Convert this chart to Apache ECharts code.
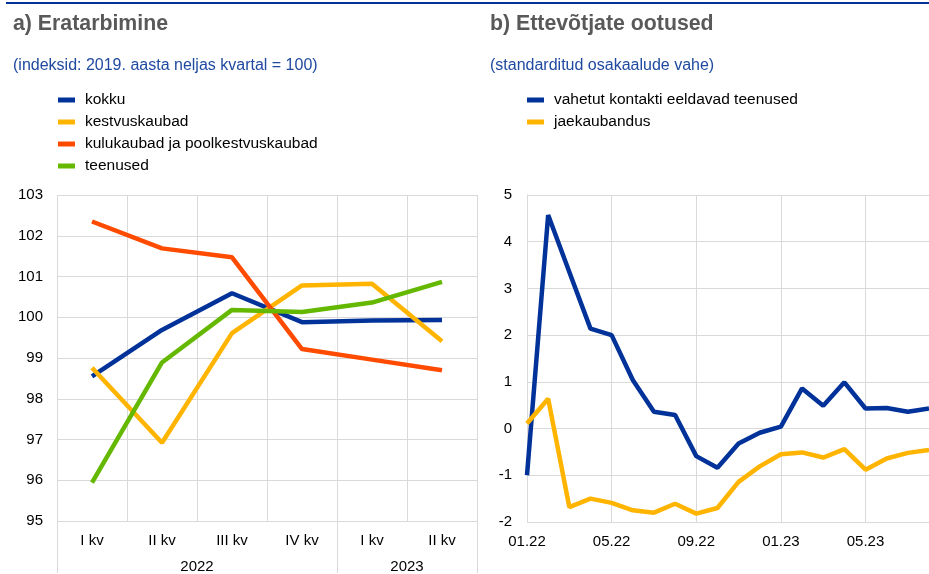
<!DOCTYPE html>
<html><head><meta charset="utf-8">
<script src="https://cdn.jsdelivr.net/npm/echarts@6/dist/echarts.min.js"></script>
<style>html,body{margin:0;padding:0;background:#fff}#c{width:929px;height:574px}</style>
</head><body><div id="c"></div>
<script>
// Panel a) data
const quarters = ['I kv','II kv','III kv','IV kv','I kv','II kv'];
const years = ['2022','2023'];
const yearQuarterCounts = [4, 2];
const kokku = [98.55, 99.69, 100.59, 99.88, 99.92, 99.93];
const kestvuskaubad = [98.76, 96.92, 99.61, 100.78, 100.82, 99.41];
const kulukaubad = [102.35, 101.69, 101.47, 99.22, 98.96, 98.70];
const teenused = [95.94, 98.89, 100.18, 100.13, 100.36, 100.87];
// Panel b) data
const months = ['01.22','02.22','03.22','04.22','05.22','06.22','07.22','08.22','09.22','10.22','11.22','12.22',
                '01.23','02.23','03.23','04.23','05.23','06.23','07.23','08.23'];
const kontaktTeenused = [-1.0, 4.57, 3.35, 2.14, 2.0, 1.04, 0.36, 0.29, -0.59, -0.84, -0.32, -0.09,
                         0.04, 0.86, 0.49, 0.99, 0.43, 0.44, 0.36, 0.43];
const jaekaubandus = [0.11, 0.64, -1.68, -1.5, -1.59, -1.75, -1.8, -1.61, -1.82, -1.7, -1.14, -0.81,
                      -0.55, -0.51, -0.62, -0.44, -0.88, -0.64, -0.52, -0.46];

const BLUE = '#003299', YELLOW = '#FFB400', ORANGE = '#FF4B00', GREEN = '#65B800';
const FONT = 'Liberation Sans, Arial, sans-serif';
const GRID_C = '#d9d9d9';
const AX_FS = 15, LEG_FS = 15.5;

// year separators and label centres (in quarter units)
const sepVals = [0]; const yearCentres = [];
let acc = 0;
yearQuarterCounts.forEach(n => { yearCentres.push(acc + n / 2); acc += n; sepVals.push(acc); });

const chart = echarts.init(document.getElementById('c'), null, {renderer: 'canvas'});
const lineS = (name, data, color, xi, yi) => ({
  name, type: 'line', data, xAxisIndex: xi, yAxisIndex: yi, showSymbol: false, symbol: 'none',
  lineStyle: {color, width: 4.5, cap: 'butt'}, itemStyle: {color}, animation: false
});
chart.setOption({
  animation: false,
  textStyle: {fontFamily: FONT},
  graphic: [{type: 'rect', shape: {x: 6, y: 2, width: 923, height: 2}, style: {fill: BLUE}}],
  title: [
    {text: 'a) Eratarbimine', left: 13, top: 14, padding: 0, textStyle: {fontSize: 21.3, fontWeight: 'bold', color: '#595959', fontFamily: FONT}},
    {text: '(indeksid: 2019. aasta neljas kvartal = 100)', left: 13, top: 58, padding: 0, textStyle: {fontSize: 16, fontWeight: 'normal', color: '#1f4aa0', fontFamily: FONT}},
    {text: 'b) Ettevõtjate ootused', left: 490, top: 14, padding: 0, textStyle: {fontSize: 21.3, fontWeight: 'bold', color: '#595959', fontFamily: FONT}},
    {text: '(standarditud osakaalude vahe)', left: 490, top: 58, padding: 0, textStyle: {fontSize: 16, fontWeight: 'normal', color: '#1f4aa0', fontFamily: FONT}}
  ],
  legend: [
    {orient: 'vertical', left: 58, top: 92, padding: 0, itemGap: 6, itemWidth: 17, itemHeight: 5, icon: 'rect',
     data: ['kokku','kestvuskaubad','kulukaubad ja poolkestvuskaubad','teenused'],
     textStyle: {fontSize: LEG_FS, color: '#000', fontFamily: FONT, padding: [0,0,0,5]}},
    {orient: 'vertical', left: 527, top: 92, padding: 0, itemGap: 6, itemWidth: 17, itemHeight: 5, icon: 'rect',
     data: ['vahetut kontakti eeldavad teenused','jaekaubandus'],
     textStyle: {fontSize: LEG_FS, color: '#000', fontFamily: FONT, padding: [0,0,0,5]}}
  ],
  grid: [
    {left: 57, top: 195, width: 420, height: 327},
    {left: 527, top: 195, right: 0, height: 327}
  ],
  xAxis: [
    {type: 'category', gridIndex: 0, data: quarters, boundaryGap: true,
     axisLine: {show: false}, axisTick: {show: false},
     axisLabel: {fontSize: AX_FS, color: '#000', margin: 12, fontFamily: FONT},
     splitLine: {show: true, lineStyle: {color: GRID_C, width: 1}}},
    {type: 'value', gridIndex: 0, min: 0, max: 6, position: 'bottom',
     axisLine: {show: false}, splitLine: {show: false},
     axisTick: {show: true, customValues: sepVals, length: 52, lineStyle: {color: GRID_C, width: 1}},
     axisLabel: {show: true, customValues: yearCentres, fontSize: AX_FS, color: '#000', margin: 38, fontFamily: FONT,
       formatter: v => years[yearCentres.indexOf(v)] || ''}},
    {type: 'category', gridIndex: 1, data: months, boundaryGap: false,
     axisLine: {show: false}, axisTick: {show: false},
     axisLabel: {interval: 3, fontSize: AX_FS, color: '#000', margin: 12, fontFamily: FONT},
     splitLine: {show: true, interval: 3, lineStyle: {color: GRID_C, width: 1}}}
  ],
  yAxis: [
    {type: 'value', gridIndex: 0, min: 95, max: 103, interval: 1,
     axisLine: {show: false}, axisTick: {show: false},
     axisLabel: {fontSize: AX_FS, color: '#000', margin: 14, fontFamily: FONT},
     splitLine: {show: true, lineStyle: {color: GRID_C, width: 1}}},
    {type: 'value', gridIndex: 1, min: -2, max: 5, interval: 1,
     axisLine: {show: true, lineStyle: {color: GRID_C, width: 1}}, axisTick: {show: false},
     axisLabel: {fontSize: AX_FS, color: '#000', margin: 15, fontFamily: FONT},
     splitLine: {show: true, lineStyle: {color: GRID_C, width: 1}}}
  ],
  series: [
    lineS('kokku', kokku, BLUE, 0, 0),
    lineS('kestvuskaubad', kestvuskaubad, YELLOW, 0, 0),
    lineS('kulukaubad ja poolkestvuskaubad', kulukaubad, ORANGE, 0, 0),
    lineS('teenused', teenused, GREEN, 0, 0),
    lineS('vahetut kontakti eeldavad teenused', kontaktTeenused, BLUE, 2, 1),
    lineS('jaekaubandus', jaekaubandus, YELLOW, 2, 1)
  ]
});
</script></body></html>
